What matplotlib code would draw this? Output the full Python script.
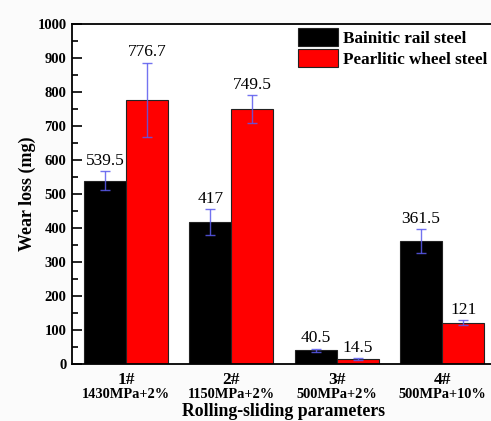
import matplotlib
matplotlib.use("Agg")
import matplotlib.pyplot as plt
import numpy as np

categories = ["1#", "2#", "3#", "4#"]
conditions = ["1430MPa+2%", "1150MPa+2%", "500MPa+2%", "500MPa+10%"]
bainitic = [539.5, 417, 40.5, 361.5]
bainitic_err = [28, 38, 5, 35]
pearlitic = [776.7, 749.5, 14.5, 121]
pearlitic_err = [110, 41, 2, 7]
series_names = ["Bainitic rail steel", "Pearlitic wheel steel"]

plt.rcParams["font.family"] = ["Liberation Serif", "DejaVu Serif"]

fig = plt.figure(figsize=(4.91, 4.21), dpi=100, facecolor="#fbfbfb")
ax = fig.add_axes([72 / 491, 57 / 421, 424 / 491, 340 / 421])
ax.set_facecolor("white")

x = np.arange(1, len(categories) + 1)
w = 0.4
err_kw = dict(ecolor="#5a5aee", elinewidth=1.0, capsize=3.5, capthick=1.0, alpha=0.85)
ax.bar(x - w / 2, bainitic, w, color="black", edgecolor="#222222", linewidth=0.8,
       yerr=bainitic_err, error_kw=err_kw, label=series_names[0])
ax.bar(x + w / 2, pearlitic, w, color="#ff0000", edgecolor="#222222", linewidth=0.8,
       yerr=pearlitic_err, error_kw=err_kw, label=series_names[1])

def fmt(v):
    return f"{v:g}"

for xs, vals, errs in ((x - w / 2, bainitic, bainitic_err), (x + w / 2, pearlitic, pearlitic_err)):
    for xi, v, e in zip(xs, vals, errs):
        ax.annotate(fmt(v), (xi, v + e), xytext=(0, 1.5), textcoords="offset points",
                    ha="center", va="bottom", fontsize=12.5)

ax.set_xlim(0.488, 4.512)
ax.set_ylim(0, 1000)
ax.set_yticks(np.arange(0, 1001, 100))
ax.set_yticks(np.arange(50, 1000, 100), minor=True)
ax.tick_params(axis="y", which="major", direction="in", length=7, width=1.2,
               labelsize=10.5, pad=4)
ax.tick_params(axis="y", which="minor", direction="in", length=4, width=1.2)
for lab in ax.get_yticklabels():
    lab.set_fontweight("bold")

ax.set_xticks(x)
ax.set_xticklabels([])
ax.tick_params(axis="x", length=0)
for xi, c, cond in zip(x, categories, conditions):
    ax.text(xi, -8 / 340, c, transform=ax.get_xaxis_transform(), ha="center", va="top",
            fontsize=12.5, fontweight="bold")
    ax.text(xi, -24 / 340, cond, transform=ax.get_xaxis_transform(), ha="center", va="top",
            fontsize=10.4, fontweight="bold")

for s in ax.spines.values():
    s.set_linewidth(1.3)

ax.set_ylabel("Wear loss (mg)", fontsize=13, fontweight="bold", labelpad=1)
fig.text(283 / 491, 1 - 411 / 421, "Rolling-sliding parameters", ha="center", va="center",
         fontsize=12.8, fontweight="bold")

ax.legend(loc="upper left", bbox_to_anchor=(298 / 491, 1 - 28 / 421),
          bbox_transform=fig.transFigure, frameon=False,
          prop={"size": 12.3, "weight": "bold"}, handlelength=2.35, handleheight=1.2,
          handletextpad=0.3, labelspacing=0.17, borderpad=0, borderaxespad=0)

fig.savefig("out.png", dpi=100, facecolor=fig.get_facecolor())
